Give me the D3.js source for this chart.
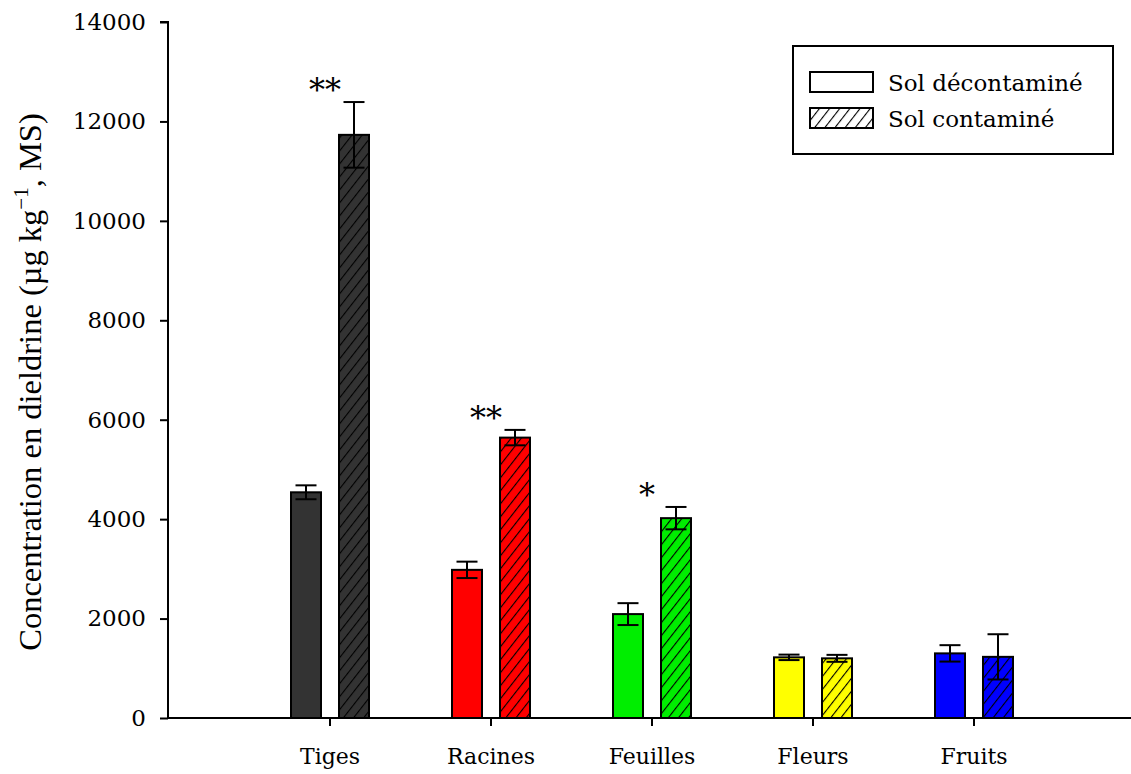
<!DOCTYPE html>
<html><head><meta charset="utf-8">
<script src="https://cdn.jsdelivr.net/npm/d3@7"></script>
<style>body{margin:0;background:#fff}</style>
</head><body>
<svg id="c" width="1131" height="774"></svg>
<script>
const categories = ["Tiges","Racines","Feuilles","Fleurs","Fruits"];
const colors = ["#333333","#ff0000","#00ee00","#ffff00","#0000ff"];
const series = ["Sol décontaminé","Sol contaminé"];
const decontValues = [4540, 2980, 2090, 1220, 1300];
const decontErrors = [140, 165, 220, 55, 165];
const contValues = [11730, 5640, 4020, 1200, 1230];
const contErrors = [660, 155, 225, 70, 455];
const signif = ["**","**","*","",""];
const yTicks = [0,2000,4000,6000,8000,10000,12000,14000];

const svg = d3.select("#c");
const defs = svg.append("defs");
function hatch(id, fill){
  const p = defs.append("pattern").attr("id",id).attr("patternUnits","userSpaceOnUse")
    .attr("width",8).attr("height",8).attr("patternTransform","rotate(38)");
  p.append("rect").attr("width",8).attr("height",8).attr("fill",fill);
  p.append("line").attr("x1",0).attr("y1",-1).attr("x2",0).attr("y2",9).attr("stroke","#000").attr("stroke-width",2.2);
}
categories.forEach((c,i)=>hatch("h"+i, colors[i]));
hatch("hl","#fff");

const y = d3.scaleLinear().domain([0,14000]).range([718,22]);
const x = d3.scaleBand().domain(categories).range([249.5,1054.5]);
const xi = d3.scaleBand().domain([0,1]).range([-39,39]).paddingInner(0.375).paddingOuter(0);

const serif = "'DejaVu Serif', serif";

const data = [];
categories.forEach((c,i)=>{
  data.push({c,i,s:0,v:decontValues[i],e:decontErrors[i]});
  data.push({c,i,s:1,v:contValues[i],e:contErrors[i]});
});
const g = svg.append("g");
g.selectAll("rect.bar").data(data).join("rect").attr("class","bar")
  .attr("x",d=>x(d.c)+x.bandwidth()/2+xi(d.s))
  .attr("width",xi.bandwidth())
  .attr("y",d=>y(d.v)).attr("height",d=>y(0)-y(d.v))
  .attr("fill",d=>d.s===0?colors[d.i]:`url(#h${d.i})`)
  .attr("stroke","#000").attr("stroke-width",2);

const eb = g.selectAll("g.eb").data(data).join("g").attr("class","eb")
  .attr("transform",d=>`translate(${x(d.c)+x.bandwidth()/2+xi(d.s)+xi.bandwidth()/2},0)`);
eb.append("line").attr("x1",0).attr("x2",0).attr("y1",d=>y(d.v+d.e)).attr("y2",d=>y(d.v-d.e)).attr("stroke","#000").attr("stroke-width",2);
eb.append("line").attr("x1",-10.5).attr("x2",10.5).attr("y1",d=>y(d.v+d.e)).attr("y2",d=>y(d.v+d.e)).attr("stroke","#000").attr("stroke-width",2);
eb.append("line").attr("x1",-10.5).attr("x2",10.5).attr("y1",d=>y(d.v-d.e)).attr("y2",d=>y(d.v-d.e)).attr("stroke","#000").attr("stroke-width",2);

g.selectAll("text.sig").data(categories).join("text").attr("class","sig")
  .attr("x",(c)=>x(c)+x.bandwidth()/2-5)
  .attr("y",(c,i)=>y(contValues[i]+contErrors[i])-1)
  .attr("text-anchor","middle").attr("font-family",serif).attr("font-size",32)
  .text((c,i)=>signif[i]);

const ya = svg.append("g").attr("transform","translate(168,0)")
  .call(d3.axisLeft(y).tickValues(yTicks).tickSize(8).tickPadding(14).tickFormat(d3.format("d")));
ya.select(".domain").attr("stroke-width",2).attr("d","M-8,22H0V718");
ya.selectAll(".tick line").attr("stroke-width",2);
ya.selectAll("text").attr("font-family",serif).attr("font-size",23).attr("fill","#000");

const xa = svg.append("g").attr("transform","translate(0,718)")
  .call(d3.axisBottom(x).tickSize(8).tickPadding(22));
xa.select(".domain").attr("stroke-width",2).attr("d","M168,0H1131");
xa.selectAll(".tick line").attr("stroke-width",2);
xa.selectAll("text").attr("font-family",serif).attr("font-size",22).attr("fill","#000");

const yt = svg.append("text").attr("transform","translate(41,382) rotate(-90)")
  .attr("text-anchor","middle").attr("font-family","'Liberation Serif', serif").attr("font-size",32.5).attr("fill","#000");
yt.append("tspan").text("Concentration en dieldrine (µg kg");
yt.append("tspan").attr("dy",-13).attr("font-size",21).text("−1");
yt.append("tspan").attr("dy",13).text(", MS)");

const lg = svg.append("g");
lg.append("rect").attr("x",793).attr("y",46).attr("width",320).attr("height",108).attr("fill","#fff").attr("stroke","#000").attr("stroke-width",2);
series.forEach((s,k)=>{
  lg.append("rect").attr("x",810).attr("y",72+k*36).attr("width",63).attr("height",20)
    .attr("fill",k===0?"#fff":"url(#hl)").attr("stroke","#000").attr("stroke-width",2);
  lg.append("text").attr("x",888).attr("y",91+k*36).attr("font-family",serif).attr("font-size",23).attr("fill","#000").text(s);
});
</script>
</body></html>
